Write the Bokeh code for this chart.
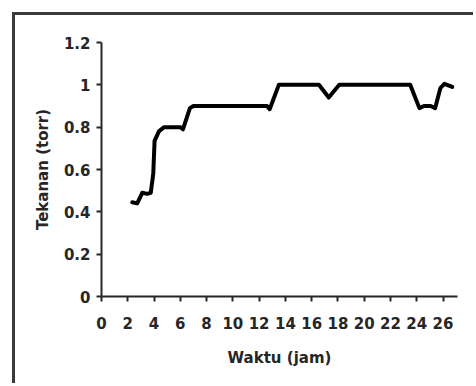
from bokeh.plotting import figure
from bokeh.models import Range1d, FixedTicker
from bokeh.embed import file_html
from bokeh.resources import INLINE

# Data
waktu = [2.34, 2.72, 3.1, 3.48, 3.75, 3.94, 4.04, 4.37, 4.75, 6.0, 6.2, 6.73, 7.0,
         12.6, 12.8, 13.5, 16.55, 17.3, 18.1, 23.5, 24.2, 24.55, 25.06, 25.4, 25.8, 26.1, 26.7]
tekanan = [0.445, 0.44, 0.49, 0.485, 0.49, 0.58, 0.735, 0.78, 0.8, 0.8, 0.79, 0.89, 0.9,
           0.9, 0.885, 1.0, 1.0, 0.94, 1.0, 1.0, 0.89, 0.9, 0.9, 0.89, 0.985, 1.005, 0.99]

x_ticks = list(range(0, 27, 2))
y_ticks = [0, 0.2, 0.4, 0.6, 0.8, 1, 1.2]
y_tick_labels = ["0", "0.2", "0.4", "0.6", "0.8", "1", "1.2"]

FONT = "DejaVu Sans"
INK = "#262626"
OFF = 15  # page offset of the canvas (12px margin + 3px frame line)

p = figure(width=476 - OFF, height=386 - OFF, output_backend="svg", toolbar_location=None,
           x_range=Range1d(0, 27.1), y_range=Range1d(0, 1.2),
           min_border_left=101 - OFF, min_border_right=19,
           min_border_top=42 - OFF, min_border_bottom=90)
p.margin = (12, 0, 0, 12)
p.styles = {"border-left": "3px solid #3a3a3a", "border-top": "3px solid #3a3a3a"}
p.background_fill_color = "white"
p.border_fill_color = "white"
p.outline_line_color = None
p.grid.visible = False

p.line(waktu, tekanan, line_color="black", line_width=4, line_join="round", line_cap="round")

for ax in (p.xaxis[0], p.yaxis[0]):
    ax.axis_line_width = 2
    ax.axis_line_color = INK
    ax.major_tick_line_width = 2
    ax.major_tick_line_color = INK
    ax.major_tick_out = 5
    ax.major_tick_in = 0
    ax.minor_tick_line_color = None
    ax.major_label_text_font = FONT
    ax.major_label_text_font_size = "15px"
    ax.major_label_text_font_style = "bold"
    ax.major_label_text_color = INK
    ax.axis_label_text_font = FONT
    ax.axis_label_text_font_size = "15px"
    ax.axis_label_text_font_style = "bold"
    ax.axis_label_text_color = INK

p.xaxis[0].ticker = FixedTicker(ticks=x_ticks)
p.xaxis[0].axis_label = "Waktu (jam)"
p.xaxis[0].major_label_standoff = 15
p.xaxis[0].axis_label_standoff = 17

p.yaxis[0].ticker = FixedTicker(ticks=y_ticks)
p.yaxis[0].major_label_overrides = {t: l for t, l in zip(y_ticks, y_tick_labels)}
p.yaxis[0].axis_label = "Tekanan (torr)"
p.yaxis[0].major_label_standoff = 6
p.yaxis[0].axis_label_standoff = 9

open("out.html", "w").write(file_html(p, INLINE))
